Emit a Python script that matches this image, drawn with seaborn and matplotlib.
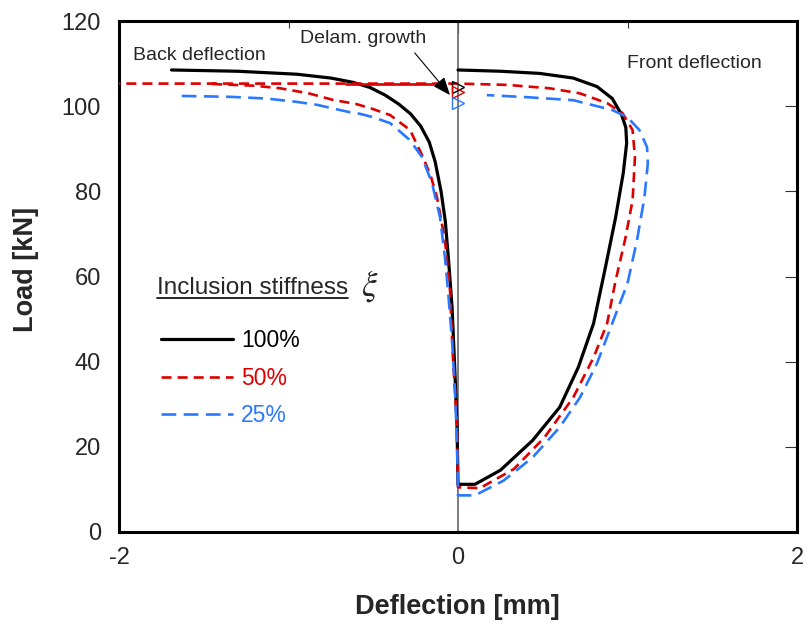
import matplotlib
matplotlib.use("Agg")
import matplotlib.pyplot as plt
from matplotlib.lines import Line2D
from matplotlib.ticker import FixedLocator
import seaborn as sns
import pandas as pd

# ---------------- data ----------------
# 100 % stiffness: back deflection (top -> bottom) then front deflection (bottom -> top)
black_x = [-1.69, -1.30, -0.95, -0.75, -0.62, -0.52, -0.43, -0.35, -0.28, -0.22, -0.17,
           -0.135, -0.10, -0.075, -0.055, -0.035, -0.018, -0.006, 0.0,
           0.10, 0.25, 0.44, 0.60, 0.71, 0.80, 0.87, 0.93, 0.975, 0.995, 0.99, 0.965,
           0.91, 0.82, 0.68, 0.48, 0.25, 0.0]
black_load = [108.5, 108.2, 107.5, 106.6, 105.6, 104.4, 102.6, 100.5, 98.2, 95.3, 91.6,
              87.0, 80.0, 73.0, 63.5, 52.8, 37.3, 25.5, 11.2,
              11.2, 14.5, 21.5, 29.3, 38.7, 49.0, 62.2, 73.9, 84.3, 91.3, 95.0, 98.0,
              101.8, 104.6, 106.6, 107.7, 108.2, 108.5]

# 50 % stiffness (ends with the back-deflection jump at delamination growth)
red_x = [-1.45, -1.20, -1.05, -0.88, -0.74, -0.60, -0.50, -0.40, -0.283, -0.206, -0.16,
         -0.124, -0.077, -0.047, -0.030, -0.006, 0.0,
         0.13, 0.33, 0.51, 0.68, 0.80, 0.88, 0.93, 0.985, 1.03, 1.044, 1.03, 0.97,
         0.88, 0.72, 0.54, 0.29, 0.0, -2.0]
red_load = [105.2, 104.8, 104.2, 103.0, 101.5, 100.5, 99.3, 97.9, 94.4, 88.0, 83.5,
            78.6, 68.5, 56.7, 41.0, 25.5, 10.5,
            10.3, 14.8, 22.2, 31.6, 41.0, 49.0, 59.1, 68.5, 77.9, 88.0, 94.4, 98.4,
            100.7, 103.0, 104.2, 105.0, 105.3, 105.3]
red_overlap_x = [-0.66, -0.15]
red_overlap_load = [105.3, 105.3]

# 25 % stiffness
blue_x = [-1.63, -1.35, -1.13, -0.95, -0.83, -0.72, -0.64, -0.578, -0.50, -0.40, -0.283,
          -0.212, -0.153, -0.106, -0.077, -0.059, -0.035, -0.018, -0.005, 0.0,
          0.10, 0.27, 0.44, 0.60, 0.72, 0.82, 0.91, 1.00, 1.056, 1.10, 1.12, 1.115,
          1.07, 1.00, 0.91, 0.68, 0.41, 0.17]
blue_load = [102.4, 102.2, 101.8, 101.0, 100.3, 99.3, 98.6, 98.2, 97.4, 96.0, 92.0,
             88.0, 81.9, 73.9, 64.5, 56.7, 45.0, 33.3, 20.0, 8.6,
             8.6, 12.1, 17.5, 24.6, 31.6, 39.6, 49.0, 58.4, 68.5, 78.6, 86.6, 90.4,
             94.4, 97.4, 99.1, 101.4, 102.1, 102.6]

# delamination growth markers (black, red, blue)
delam_x = [0.0, 0.0, 0.0]
delam_load = [104.4, 103.4, 100.8]

series_labels = ["100%", "50%", "25%"]
x_ticks = [-2, 0, 2]
x_minor = [-1, 1]
y_ticks = [0, 20, 40, 60, 80, 100, 120]

# ---------------- style ----------------
sns.set_style("white")
plt.rcParams["font.family"] = ["Liberation Sans", "DejaVu Sans"]
plt.rcParams["axes.unicode_minus"] = False

BLACK = "#000000"
RED = "#dd0000"
BLUE = "#2a78ff"
colors = [BLACK, RED, BLUE]
styles = ["-", (0, (3.8, 2.3)), (0, (5.6, 2.8))]
widths = [2.3, 1.9, 1.9]

fig = plt.figure(figsize=(8.07, 6.24), dpi=100)
ax = fig.add_axes([119 / 807, 1 - 532 / 624, (797 - 119) / 807, (532 - 21) / 624])

ax.axvline(0, color="#666666", lw=1.2, zorder=1)

frames = [
    pd.DataFrame({"x": black_x, "load": black_load}),
    pd.DataFrame({"x": red_x, "load": red_load}),
    pd.DataFrame({"x": blue_x, "load": blue_load}),
]
for df, c, ls, lw in zip(frames, colors, styles, widths):
    sns.lineplot(data=df, x="x", y="load", sort=False, estimator=None, ax=ax,
                 color=c, linestyle=ls, linewidth=lw, zorder=3)

sns.lineplot(data=pd.DataFrame({"x": red_overlap_x, "load": red_overlap_load}),
             x="x", y="load", sort=False, estimator=None, ax=ax,
             color=RED, linewidth=1.9, zorder=3)

for xv, yv, c in zip(delam_x, delam_load, colors):
    ax.plot([xv], [yv], marker=">", ms=9, mfc="none", mec=c, mew=1.0, ls="none", zorder=4)

ax.set_xlim(-2, 2)
ax.set_ylim(0, 120)
ax.set_xticks(x_ticks)
ax.xaxis.set_minor_locator(FixedLocator(x_minor))
ax.set_yticks(y_ticks)
ax.tick_params(axis="both", which="both", direction="in", top=True, right=True,
               color="#333333", width=0.8, labelsize=17)
ax.tick_params(axis="y", which="major", length=8.5, pad=13)
ax.tick_params(axis="x", which="major", length=8.5, pad=11)
ax.tick_params(axis="x", which="minor", length=5)
for sp in ax.spines.values():
    sp.set_linewidth(2.2)
    sp.set_color("black")

ax.set_xlabel("Deflection [mm]", fontsize=19.5, fontweight="bold")
ax.set_ylabel("Load [kN]", fontsize=19.5, fontweight="bold")
ax.xaxis.set_label_coords(0.4985, -0.1215)
ax.yaxis.set_label_coords(-0.118, 0.513)

# annotations
ax.text(-1.92, 111.8, "Back deflection", fontsize=14, ha="left", va="center")
ax.text(0.997, 110.1, "Front deflection", fontsize=14, ha="left", va="center")
ax.text(-0.93, 116.0, "Delam. growth", fontsize=14, ha="left", va="center")
ax.annotate("", xy=(-0.047, 102.6), xytext=(-0.255, 112.5),
            arrowprops=dict(arrowstyle="-|>,head_length=0.55,head_width=0.22",
                            color="black", lw=0.8, mutation_scale=20, shrinkA=0, shrinkB=0),
            zorder=5)

# legend title (underlined) with xi
title = ax.text(-1.776, 56.0, "Inclusion stiffness", fontsize=17.5, ha="left", va="baseline")
ax.text(-0.57, 55.6, r"$\xi$", fontsize=25, ha="left", va="baseline", math_fontfamily="stix")

handles = [Line2D([], [], color=c, linestyle=ls, linewidth=lw)
           for c, ls, lw in zip(colors, styles, widths)]
ax.legend(handles, series_labels, loc="upper left", bbox_to_anchor=(0.0487, 0.415),
          frameon=False, fontsize=16.5, handlelength=3.14, handletextpad=0.35,
          labelspacing=0.64, borderpad=0.4, borderaxespad=0,
          labelcolor=colors)

fig.canvas.draw()
r = fig.canvas.get_renderer()
bb = title.get_window_extent(r).transformed(ax.transAxes.inverted())
ax.plot([bb.x0, bb.x1], [bb.y0 + 0.002, bb.y0 + 0.002], transform=ax.transAxes,
        color="black", lw=1.2, clip_on=False)

fig.savefig("out.png", dpi=100)
